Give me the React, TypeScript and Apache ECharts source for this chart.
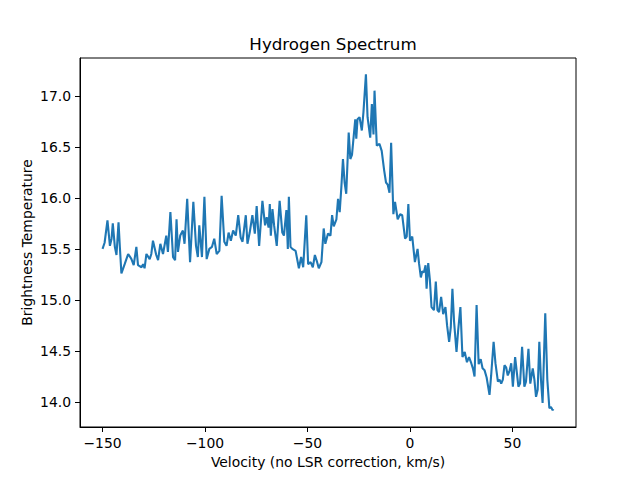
import React, { useEffect, useRef } from "react";
import * as echarts from "echarts";

const velocity = [
  -150, -149, -147.6, -146.4, -145.6, -145, -144, -143.2, -142.2, -141.5,
  -140.8, -139.2, -137.5, -136.5, -135.9, -134.8, -133.5, -132.7, -131, -130.2,
  -129.5, -128.6, -127, -126.2, -125.4, -123.8, -122.9, -121.8, -120.5, -118.9,
  -118.1, -116.9, -115.6, -114.6, -113.9, -113.2, -112.1, -110.8, -110, -108.7,
  -107.3, -105.7, -104.4, -103.5, -102.8, -101.5, -100.3, -99.2, -97.9, -96.6,
  -95.5, -94.3, -93, -91.9, -90.6, -89.5, -88.5, -87.4, -86.3, -85,
  -83.8, -82.6, -81.7, -80.1, -79.3, -78.2, -76.9, -75.7, -74.8, -73.6,
  -72, -70.7, -69.9, -69, -68.4, -67.9, -67.1, -66.3, -65, -63.6,
  -62.3, -61.5, -60.3, -59.6, -59.1, -58.3, -57.4, -55.8, -54.2, -53.1,
  -52.1, -50.6, -49.7, -48.5, -47.4, -46.4, -45.3, -44.5, -43.2, -42.1,
  -41.3, -40, -38.8, -38, -37.2, -35.9, -35.1, -34.3, -33.5, -32.7,
  -31.9, -31.1, -29.9, -29.1, -28.3, -26.7, -26.2, -25.6, -24.6, -23.5,
  -22.7, -21.5, -20.7, -19.4, -18.6, -17.8, -17.3, -16.2, -14.9, -13.8,
  -12.6, -11.7, -10.9, -10, -9.2, -8.1, -7.3, -6, -4.8, -3.8,
  -2.4, -1.6, -0.8, 0, 1.1, 2.4, 3.7, 4.4, 5.3, 6,
  6.8, 7.6, 8.1, 8.9, 9.7, 10.5, 11.7, 12.6, 13.4, 14.2,
  15.2, 16.2, 17.3, 18.1, 19.1, 19.9, 20.7, 21.5, 22.7, 23.5,
  24.6, 25.6, 26.7, 27.8, 28.8, 29.9, 30.7, 31.5, 32.5, 33.5,
  34.5, 35.4, 36.4, 37.4, 38.8, 39.6, 40.8, 41.7, 42.9, 43.7,
  44.5, 45.3, 46.1, 46.9, 47.7, 48.5, 49.4, 50.2, 51.3, 52.9,
  53.7, 54.7, 55.8, 56.6, 57.8, 58.7, 59.9, 60.7, 61.5, 62.3,
  63.1, 63.9, 64.7, 66, 67, 68, 68.8, 69.6, 70,
];

const temperature = [
  15.5, 15.56, 15.78, 15.53, 15.6, 15.75, 15.52, 15.44, 15.76, 15.5,
  15.26, 15.35, 15.45, 15.42, 15.4, 15.34, 15.52, 15.34, 15.32, 15.35,
  15.31, 15.45, 15.4, 15.45, 15.58, 15.44, 15.39, 15.55, 15.45, 15.63,
  15.47, 15.86, 15.42, 15.39, 15.79, 15.47, 15.63, 15.68, 15.55, 15.99,
  15.37, 15.96, 15.53, 15.42, 15.73, 15.42, 16.01, 15.4, 15.5, 15.52,
  15.6, 15.45, 15.48, 16.02, 15.57, 15.53, 15.66, 15.58, 15.68, 15.63,
  15.83, 15.61, 15.57, 15.83, 15.55, 15.66, 15.83, 15.65, 15.92, 15.53,
  15.97, 15.73, 15.81, 15.71, 15.94, 15.63, 15.89, 15.73, 15.53, 15.97,
  15.66, 15.63, 15.88, 15.5, 16.01, 15.52, 15.5, 15.48, 15.31, 15.42,
  15.32, 15.83, 15.35, 15.37, 15.32, 15.44, 15.37, 15.31, 15.37, 15.7,
  15.55, 15.65, 15.63, 15.83, 15.72, 15.79, 15.99, 15.86, 16.1, 16.38,
  16.15, 16.04, 16.64, 16.38, 16.42, 16.77, 16.58, 16.77, 16.79, 16.66,
  16.84, 17.21, 16.79, 16.59, 16.92, 16.62, 17.05, 16.51, 16.53, 16.46,
  16.27, 16.15, 16.13, 16.05, 16.54, 15.84, 15.96, 15.79, 15.84, 15.83,
  15.6, 15.62, 15.94, 15.58, 15.62, 15.37, 15.5, 15.36, 15.22, 15.28,
  15.27, 15.34, 15.11, 15.36, 15.2, 14.93, 14.9, 15.18, 14.9, 14.88,
  15.03, 14.86, 14.93, 14.75, 14.59, 14.73, 15.11, 14.79, 14.49, 14.7,
  14.93, 14.44, 14.49, 14.39, 14.44, 14.38, 14.33, 14.25, 14.95, 14.37,
  14.42, 14.33, 14.31, 14.24, 14.07, 14.26, 14.59, 14.38, 14.2, 14.22,
  14.18, 14.22, 14.36, 14.34, 14.26, 14.3, 14.38, 14.15, 14.44, 14.15,
  14.18, 14.54, 14.15, 14.2, 14.52, 14.18, 14.33, 14.22, 14.05, 14.12,
  14.59, 14.22, 13.99, 14.87, 14.22, 13.94, 13.95, 13.92, 13.93,
];

const xTicks = [-150, -100, -50, 0, 50];
const yTicks = [14.0, 14.5, 15.0, 15.5, 16.0, 16.5, 17.0];

const FONT = "DejaVu Sans";

export default function App() {
  const ref = useRef<HTMLDivElement>(null);

  useEffect(() => {
    if (!ref.current) return;
    const chart = echarts.init(ref.current, undefined, { renderer: "svg" });
    const data = velocity.map((v, i) => [v, temperature[i]]);
    chart.setOption({
      animation: false,
      backgroundColor: "#ffffff",
      textStyle: { fontFamily: FONT },
      grid: {
        left: 80,
        right: 64,
        top: 58,
        bottom: 53,
        show: true,
        borderColor: "#000000",
        borderWidth: 1,
        backgroundColor: "transparent",
      },
      title: {
        text: "Hydrogen Spectrum",
        left: 328,
        top: 30,
        textAlign: "center",
        textStyle: {
          fontFamily: FONT,
          fontSize: 16.7,
          fontWeight: "normal",
          color: "#000000",
        },
      },
      xAxis: {
        type: "value",
        min: -161,
        max: 81,
        name: "Velocity (no LSR correction, km/s)",
        nameLocation: "middle",
        nameGap: 28,
        nameMoveOverlap: false,
        nameTextStyle: { fontFamily: FONT, fontSize: 13.9, color: "#000000" },
        axisLine: { show: true, onZero: false, lineStyle: { color: "#000000", width: 1 } },
        axisTick: {
          show: true,
          inside: false,
          length: 5,
          customValues: xTicks,
          lineStyle: { color: "#000000", width: 1 },
        },
        axisLabel: {
          show: true,
          margin: 9,
          customValues: xTicks,
          fontFamily: FONT,
          fontSize: 13.9,
          color: "#000000",
          formatter: (v: number) => (v < 0 ? "\u2212" + Math.abs(v) : String(v)),
        },
        splitLine: { show: false },
      },
      yAxis: {
        type: "value",
        min: 13.755,
        max: 17.37,
        name: "Brightness Temperature",
        nameLocation: "middle",
        nameGap: 46,
        nameMoveOverlap: false,
        nameTextStyle: { fontFamily: FONT, fontSize: 13.9, color: "#000000" },
        axisLine: { show: true, onZero: false, lineStyle: { color: "#000000", width: 1 } },
        axisTick: {
          show: true,
          inside: false,
          length: 5,
          customValues: yTicks,
          lineStyle: { color: "#000000", width: 1 },
        },
        axisLabel: {
          show: true,
          margin: 9,
          customValues: yTicks,
          fontFamily: FONT,
          fontSize: 13.9,
          color: "#000000",
          formatter: (v: number) => v.toFixed(1),
        },
        splitLine: { show: false },
      },
      series: [
        {
          type: "line",
          data,
          symbol: "none",
          lineStyle: { color: "#1f77b4", width: 2.1 },
          itemStyle: { color: "#1f77b4" },
        },
      ],
    });
    return () => chart.dispose();
  }, []);

  return <div ref={ref} style={{ width: 640, height: 480, margin: -8 }} />;
}
